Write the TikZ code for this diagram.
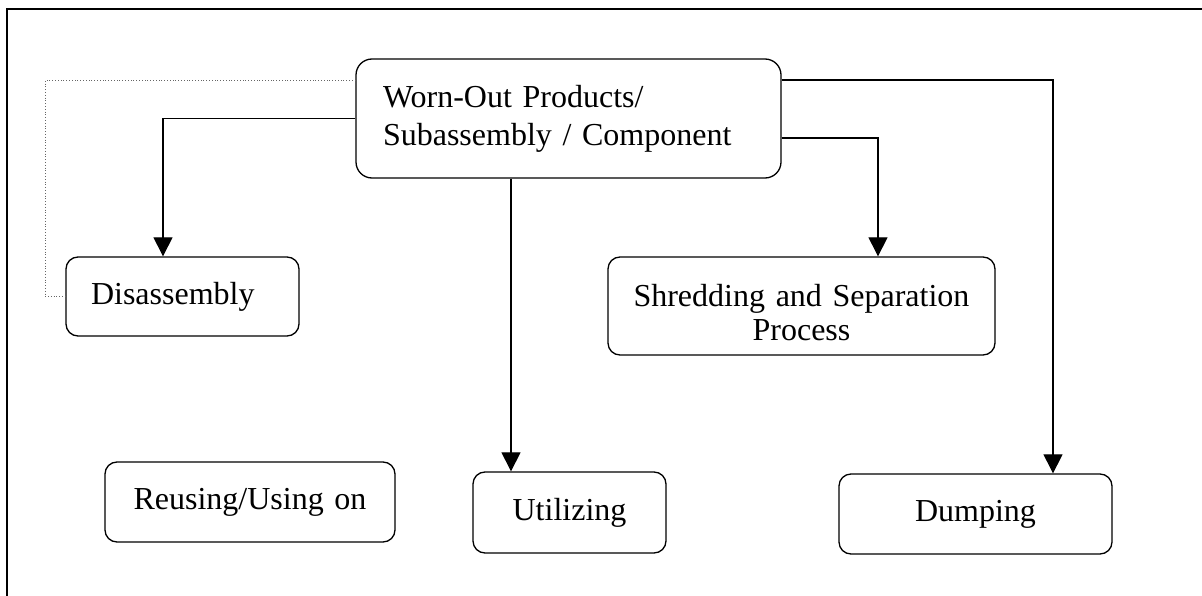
\documentclass[tikz,border=0pt]{standalone}
\usepackage{fontspec}
\setmainfont{Liberation Serif}
\usetikzlibrary{arrows.meta}
\begin{document}
\begin{tikzpicture}[x=1pt,y=-1pt,
  box/.style={draw, line width=1.3pt, rounded corners=12pt,
    font=\fontsize{32}{38}\selectfont, inner ysep=0pt},
  arr/.style={line width=1.1pt, -{Triangle[width=19pt,length=19pt]}},
  feedback/.style={line width=0.8pt, dotted, black!60}]
\useasboundingbox (0,0) rectangle (1202,596);
% outer frame (left and top edges)
\draw[line width=1.4pt] (7,596) -- (7,9) -- (1202,9);

% process boxes
\node[box, rounded corners=16pt, minimum height=119pt, inner xsep=27pt,
      text width=371pt, align=left] (wo) at (568.5,118.5)
      {Worn-Out Products/\\Subassembly / Component};
\node[box, minimum height=79pt, inner xsep=25pt, text width=183pt,
      align=left] (dis) at (182.5,296.5) {Disassembly};
\node[box, minimum height=98pt, inner xsep=10pt, text width=367pt,
      align=center, font=\fontsize{32}{34}\selectfont] (shr) at (801.5,306)
      {\rule{0pt}{36pt}Shredding and Separation\\Process};
\node[box, minimum height=80pt, inner xsep=10pt, text width=270pt,
      align=center] (reu) at (250,502) {Reusing/Using on};
\node[box, minimum height=81pt, inner xsep=10pt, text width=173pt,
      align=center] (util) at (569.5,512.5) {Utilizing};
\node[box, minimum height=80pt, inner xsep=10pt, text width=253pt,
      align=center] (dump) at (975.5,514) {Dumping};

% connectors
\draw[arr] (wo.west) -| ([xshift=-19.5pt]dis.north);
\draw[feedback] ([yshift=38.5pt]wo.west) -- ++(-310,0) |- (dis.west);
\draw[arr] ([xshift=-58.5pt]util.north |- wo.south) -- ([xshift=-58.5pt]util.north);
\draw[arr] ([yshift=-19.5pt]wo.east) -| ([xshift=76.5pt]shr.north);
\draw[arr] ([yshift=38.5pt]wo.east) -| ([xshift=77.5pt]dump.north);
\end{tikzpicture}
\end{document}
